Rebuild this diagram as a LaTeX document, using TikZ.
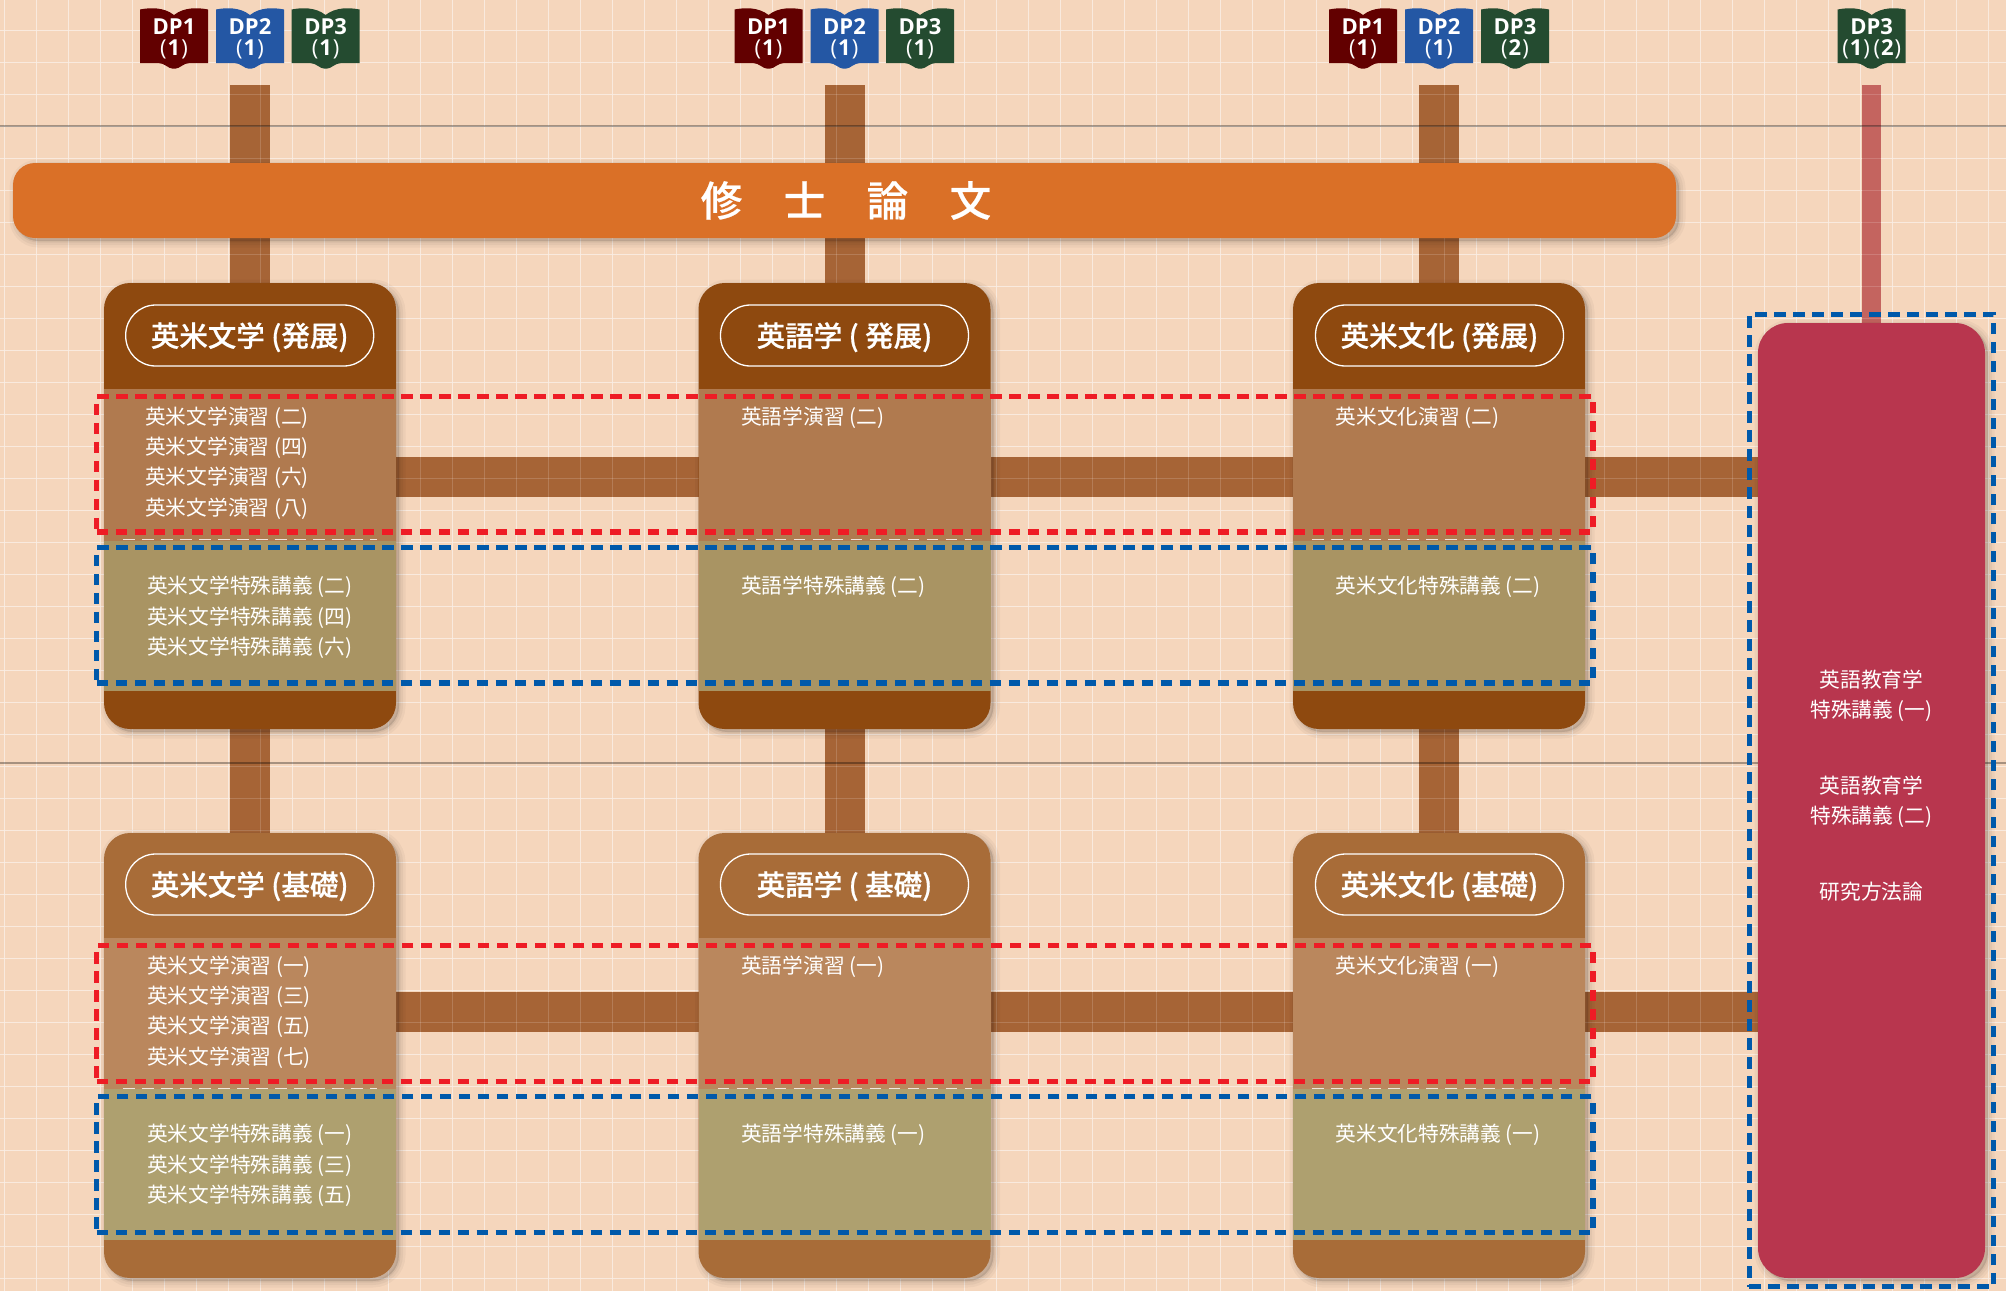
\documentclass[tikz,border=0pt]{standalone}
\usepackage{fontspec}
\newfontfamily\cjk{Noto Sans CJK JP}
\newfontfamily\cjkmed[FakeBold=0.5]{Noto Sans CJK JP Medium}
\newfontfamily\dpfont{Open Sans}
\usetikzlibrary{backgrounds}
\definecolor{paper}{HTML}{F5D6BC}
\definecolor{gridline}{HTML}{F9E6D8}
\definecolor{linkbrown}{HTML}{A66436}
\definecolor{linkrose}{HTML}{C4645F}
\definecolor{barorange}{HTML}{DA7027}
\definecolor{advhead}{HTML}{8E490F}
\definecolor{advtan}{HTML}{B07A4F}
\definecolor{advolive}{HTML}{A99463}
\definecolor{basehead}{HTML}{A86C38}
\definecolor{basetan}{HTML}{BA875D}
\definecolor{baseolive}{HTML}{AEA06F}
\definecolor{electred}{HTML}{B8364E}
\definecolor{dashred}{HTML}{EE1C25}
\definecolor{dashblue}{HTML}{0059AA}
\definecolor{bookred}{HTML}{620000}
\definecolor{bookblue}{HTML}{2457A4}
\definecolor{bookgreen}{HTML}{244B30}
\newcommand{\dpnum}[1]{{\mdseries(}\kern1pt#1\kern1pt{\mdseries)}}

\begin{document}
\begin{tikzpicture} [x=1pt, y=-1pt,
    link/.style = {draw=linkbrown, line width=40pt},
    softshadow/.style = {preaction={draw=black, fill=black, opacity=.035, line width=13pt, line join=round, transform canvas={shift={(3pt,-3pt)}}},
        preaction={draw=black, fill=black, opacity=.04, line width=8pt, line join=round, transform canvas={shift={(3pt,-3pt)}}},
        preaction={draw=black, fill=black, opacity=.05, line width=3pt, line join=round, transform canvas={shift={(3pt,-3pt)}}}},
    ]
        \tikzset{colbox/.style = {softshadow, rounded corners=26pt, minimum width=292pt, inner sep=0}}
        \tikzset{band/.style = {minimum width=292pt, inner sep=0}}
        \tikzset{pill/.style = {draw=white, line width=1.3pt, rounded corners=30pt, minimum width=248pt, minimum height=61pt, inner sep=0, text=white, text height=24pt, text depth=2pt, font=\cjkmed\fontsize{28.5}{34}\selectfont}}
        \tikzset{courses/.style = {anchor=north west, inner sep=0, align=left, text=white, font=\cjk\fontsize{20.7}{30.3}\selectfont}}
        \tikzset{dashbox/.style = {line width=5.2pt, dash pattern=on 11.5pt off 7.5pt, inner sep=0}}
        \tikzset{pics/bookicon/.style 2 args = {code = {
            \fill[#1] (-34,1.5) .. controls (-24,-.5) and (-10,-1) .. (0,7) .. controls (10,-1) and (24,-.5) .. (34,1.5) -- (34,55) -- (16,55) .. controls (9,55) and (6,60.7) .. (1,60.7) -- (-1,60.7) .. controls (-6,60.7) and (-9,55) .. (-16,55) -- (-34,55) -- cycle;
            \node[inner sep=0, align=center, text=white, font=\dpfont\bfseries\fontsize{22}{21}\selectfont] at (0,31) (label) {#2};
        }}}
    \useasboundingbox (0,0) rectangle (2006,1291);

    % columns
    \foreach \c/\x in {1/250, 2/844.5, 3/1439} {
        \node[colbox, fill=advhead, minimum height=446pt] at (\x,506) (adv\c) {};
        \node[band, fill=advtan, minimum height=152pt] at (\x,465) (advtan\c) {};
        \node[band, fill=advolive, minimum height=150pt] at (\x,616) (advolive\c) {};
        \node[colbox, fill=basehead, minimum height=445pt] at (\x,1055.5) (base\c) {};
        \node[band, fill=basetan, minimum height=151pt] at (\x,1013.5) (basetan\c) {};
        \node[band, fill=baseolive, minimum height=151pt] at (\x,1164.5) (baseolive\c) {};
        \coordinate (top\c) at (\x,85);
        \draw[white, opacity=.8, line width=1.2pt, dash pattern=on 11.5pt off 7.5pt] (\x-127,539.8) -- (\x+127,539.8);
        \draw[white, opacity=.8, line width=1.2pt, dash pattern=on 11.5pt off 7.5pt] (\x-127,1088.7) -- (\x+127,1088.7);
    }
    \node[softshadow, fill=electred, rounded corners=30pt, minimum width=227pt, minimum height=955pt, inner sep=0] at (1871.5,800.5) (elect) {};
    \node[softshadow, fill=barorange, rounded corners=22pt, minimum width=1663pt, minimum height=75pt, inner sep=0, text=white, font=\cjkmed\fontsize{41.5}{48}\selectfont] at (844.5,200.5) (thesis) {\kern3pt修　士　論　文};
    \coordinate (top4) at (1871.5,85);

    % headers
    \node[pill] at (249.7,335.5) (headadv1) {英米文学 (発展)};
    \node[pill] at (844.5,335.5) (headadv2) {英語学 ( 発展)};
    \node[pill] at (1439.5,335.5) (headadv3) {英米文化 (発展)};
    \node[pill] at (249.7,884.5) (headbase1) {英米文学 (基礎)};
    \node[pill] at (844.5,884.5) (headbase2) {英語学 ( 基礎)};
    \node[pill] at (1439.5,884.5) (headbase3) {英米文化 (基礎)};

    % course lists
    \node[courses] at (145,406.5) (seminaradv1) {英米文学演習 (二)\\英米文学演習 (四)\\英米文学演習 (六)\\英米文学演習 (八)};
    \node[courses] at (741,406.5) (seminaradv2) {英語学演習 (二)};
    \node[courses] at (1335.5,406.5) (seminaradv3) {英米文化演習 (二)};
    \node[courses] at (147,576) (lectureadv1) {英米文学特殊講義 (二)\\英米文学特殊講義 (四)\\英米文学特殊講義 (六)};
    \node[courses] at (741,576) (lectureadv2) {英語学特殊講義 (二)};
    \node[courses] at (1335.5,576) (lectureadv3) {英米文化特殊講義 (二)};
    \node[courses] at (147,955.5) (seminarbase1) {英米文学演習 (一)\\英米文学演習 (三)\\英米文学演習 (五)\\英米文学演習 (七)};
    \node[courses] at (741,955.5) (seminarbase2) {英語学演習 (一)};
    \node[courses] at (1335.5,955.5) (seminarbase3) {英米文化演習 (一)};
    \node[courses] at (147,1124) (lecturebase1) {英米文学特殊講義 (一)\\英米文学特殊講義 (三)\\英米文学特殊講義 (五)};
    \node[courses] at (741,1124) (lecturebase2) {英語学特殊講義 (一)};
    \node[courses] at (1335.5,1124) (lecturebase3) {英米文化特殊講義 (一)};
    \node[courses, align=center, anchor=north] at (1871.5,669.5) (electa) {英語教育学\\特殊講義 (一)};
    \node[courses, align=center, anchor=north] at (1871.5,775.5) (electb) {英語教育学\\特殊講義 (二)};
    \node[courses, align=center, anchor=north] at (1871.5,881.5) (electc) {研究方法論};

    % dashed frames
    \node[dashbox, draw=dashred, minimum width=1496.3pt, minimum height=135.3pt] at (844.85,464.35) (redadv) {};
    \node[dashbox, draw=dashblue, minimum width=1496.3pt, minimum height=135.3pt] at (844.85,615.35) (blueadv) {};
    \node[dashbox, draw=dashred, minimum width=1496.3pt, minimum height=136pt] at (844.85,1013.7) (redbase) {};
    \node[dashbox, draw=dashblue, minimum width=1496.3pt, minimum height=136pt] at (844.85,1164.7) (bluebase) {};
    \node[dashbox, draw=dashblue, minimum width=244.4pt, minimum height=972.4pt] at (1871.5,800.5) (blueelect) {};

    % books
    \foreach \x/\c/\n/\t in {174/bookred/1/1, 250/bookblue/2/1, 325.6/bookgreen/3/1,
                          768.5/bookred/1/1, 844.5/bookblue/2/1, 920/bookgreen/3/1,
                          1363/bookred/1/1, 1439/bookblue/2/1, 1515/bookgreen/3/2}
        \pic at (\x,8) {bookicon={\c}{DP\n\\\dpnum{\t}}};
    \pic at (1871.7,8) {bookicon={bookgreen}{DP3\\\dpnum{1}\,\dpnum{2}}};

\begin{scope}[on background layer]
    \fill[paper] (0,0) rectangle (2006,1291);
    \foreach \i in {0,...,62} \draw[gridline, line width=1.2pt] (4.7+32*\i,0) -- (4.7+32*\i,1291);
    \foreach \j in {0,...,39} \draw[gridline, line width=1.2pt] (0,30.7+32*\j) -- (2006,30.7+32*\j);
    \foreach \c in {1,2,3} {
        \path[link] (top\c) edge (adv\c) (adv\c) edge (base\c);
    }
    \path[draw=linkrose, line width=19pt] (top4) -- (elect);
    \path[link] ([yshift=29.5pt]adv1.east) -- ([yshift=29.5pt]adv1.east -| elect.west);
    \path[link] ([yshift=43.5pt]base1.east) -- ([yshift=43.5pt]base1.east -| elect.west);
    \foreach \i in {0,...,62} \draw[white, opacity=.16, line width=1.2pt] (4.7+32*\i,0) -- (4.7+32*\i,1291);
    \foreach \j in {0,...,39} \draw[white, opacity=.16, line width=1.2pt] (0,30.7+32*\j) -- (2006,30.7+32*\j);
    \draw[black, opacity=.32, line width=1.5pt] (0,126) -- (2006,126);
    \draw[black, opacity=.32, line width=1.5pt] (0,763) -- (2006,763);
\end{scope}
\end{tikzpicture}
\end{document}
